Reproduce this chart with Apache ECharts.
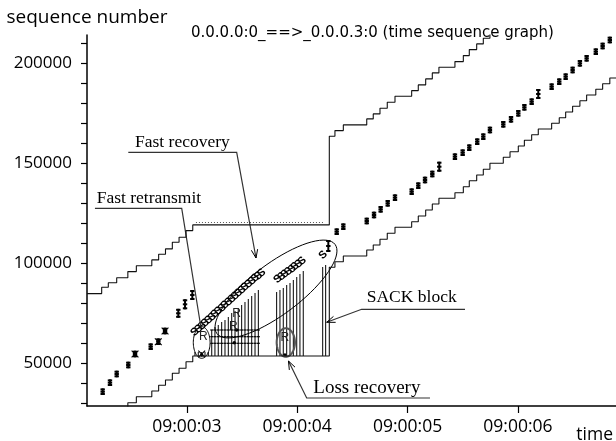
<!DOCTYPE html>
<html><head><meta charset="utf-8">
<script src="https://cdn.jsdelivr.net/npm/echarts@6/dist/echarts.min.js"></script>
<style>html,body{margin:0;padding:0;background:#fff}#c{width:616px;height:441px}</style>
</head><body><div id="c"></div>
<script>
// ---------------- data (time in seconds after 09:00:00, sequence numbers) ----------------
const xTickValues = [3, 4, 5, 6];
const xTickLabels = ['09:00:03', '09:00:04', '09:00:05', '09:00:06'];
const yTickValues = [30000, 40000, 50000, 60000, 70000, 80000, 90000, 100000, 110000, 120000,
  130000, 140000, 150000, 160000, 170000, 180000, 190000, 200000, 210000];
const yLabelValues = [50000, 100000, 150000, 200000];

// data segments sent: [time, seq, length]
const segments = [
  [2.238, 35800, 3300], [2.304, 40300, 3300], [2.365, 44650, 3300], [2.470, 49150, 3300],
  [2.531, 54650, 3300], [2.673, 58300, 3300], [2.742, 60800, 3300], [2.803, 66150, 3300],
  [2.923, 75000, 4500], [2.984, 79500, 5000], [3.050, 84150, 5000],
  [4.282, 108650, 6000], [4.358, 115800, 3300], [4.418, 118300, 3300], [4.630, 121150, 3300],
  [4.696, 124150, 3300], [4.756, 127000, 3300], [4.820, 130000, 3300], [4.886, 132800, 3300],
  [5.037, 135800, 3300], [5.097, 138800, 3300], [5.158, 141650, 3300], [5.224, 144650, 3300],
  [5.287, 148300, 5000], [5.429, 153300, 3300], [5.499, 155300, 3300], [5.559, 157800, 3300],
  [5.631, 160800, 3300], [5.686, 163300, 3300], [5.746, 166650, 3300], [5.867, 169500, 3300],
  [5.937, 172000, 3300], [6.003, 175000, 3300], [6.058, 178000, 3300], [6.124, 180800, 3300],
  [6.184, 184650, 5000], [6.305, 188300, 3300], [6.374, 190800, 3300], [6.432, 193300, 3300],
  [6.495, 196650, 3300], [6.561, 200000, 3300], [6.622, 202500, 3300], [6.705, 205800, 3300],
  [6.767, 208650, 3300], [6.832, 211650, 3300]
];

// cumulative ACK line: [time, ack]
const ackLine = [
  [2.466, 27000], [2.466, 30300], [2.543, 33250], [2.683, 36150], [2.745, 39000], [2.807, 41650],
  [2.869, 45000], [2.930, 47500], [2.993, 50800], [3.054, 53650], [4.291, 98000], [4.342, 100800],
  [4.418, 103650], [4.630, 106650], [4.689, 109150], [4.750, 112000], [4.816, 115000], [4.886, 118000],
  [5.037, 120800], [5.097, 123650], [5.164, 126650], [5.224, 129650], [5.284, 132500], [5.429, 135300],
  [5.505, 138300], [5.559, 141300], [5.626, 144150], [5.686, 147000], [5.746, 150000], [5.867, 153000],
  [5.928, 155800], [6.003, 158650], [6.058, 161500], [6.124, 164300], [6.184, 167150], [6.305, 170000],
  [6.374, 172800], [6.432, 175650], [6.495, 178500], [6.561, 181300], [6.622, 184150], [6.705, 187000],
  [6.767, 189800], [6.832, 192650], [6.888, 192650]
];

// advertised receive window edge: [time, seq]
const windowLine = [
  [2.096, 84850], [2.229, 88000], [2.289, 90300], [2.365, 92800], [2.466, 95850], [2.543, 98800],
  [2.683, 101700], [2.745, 104550], [2.807, 107200], [2.869, 110550], [2.930, 113050], [2.993, 116350],
  [3.054, 119200], [4.291, 163550], [4.342, 166350], [4.418, 169200], [4.630, 172200], [4.689, 174700],
  [4.750, 177550], [4.816, 180550], [4.886, 183550], [5.037, 186350], [5.097, 189200], [5.164, 192200],
  [5.224, 195200], [5.284, 198050], [5.429, 200850], [5.505, 203850], [5.559, 206850], [5.626, 209700],
  [5.686, 212550], [5.746, 215550]
];

const windowProbe = [[3.083, 120400], [4.250, 120400]];

// SACK blocks: [time, upper edge]; lower end at the stalled ACK
const sackBase = 53650;
const sackBlocks = [
  [3.074, 55650], [3.104, 55650], [3.135, 55650], [3.165, 55650], [3.195, 55650],
  [3.226, 66650], [3.255, 68150], [3.285, 69150], [3.316, 70650], [3.346, 71650], [3.376, 73150],
  [3.407, 75150], [3.437, 76150], [3.466, 77650], [3.497, 79150], [3.527, 80650], [3.557, 82150],
  [3.588, 83650], [3.618, 85150], [3.648, 86650],
  [3.814, 85650], [3.844, 86650], [3.874, 87650], [3.905, 89150], [3.935, 90150], [3.965, 91650],
  [3.996, 93150], [4.025, 94650], [4.055, 96150],
  [4.231, 98150], [4.258, 99150]
];
const sackEdges = [60000, 63300, 66650];
const sackEdgeRange = [3.22, 3.65];

// SACKed segments (S marks): [time, seq]
const sackedSegs = [
  [3.074, 65650], [3.106, 67150], [3.138, 68650], [3.165, 70150], [3.197, 71650], [3.229, 73150],
  [3.255, 74650], [3.287, 76150], [3.319, 77650], [3.346, 79150], [3.378, 80650], [3.409, 82150],
  [3.437, 83650], [3.468, 85150], [3.500, 86650], [3.527, 88150], [3.559, 89650], [3.591, 91150],
  [3.618, 92650], [3.649, 93650], [3.678, 95150],
  [3.826, 92150], [3.858, 93400], [3.889, 94650], [3.921, 95900], [3.953, 97150], [3.980, 98400],
  [4.012, 99650], [4.044, 101150],
  [4.236, 104150]
];

const retransmits = [[3.135, 54150], [3.430, 60300], [3.452, 66650], [3.889, 54150]];
const retransLabels = [[3.149, 63300], [3.421, 68300], [3.452, 75000], [3.889, 62800]];
const dupAcks = [[2.531, 54650], [2.742, 60800], [2.803, 66150], [3.135, 54650]];

// annotations (anchored in data coordinates)
const notes = [
  { text: 'Fast recovery', at: [2.531, 160400], line: [[2.470, 155500], [3.452, 155500], [3.627, 102650]], arrow: true, size: 17.5 },
  { text: 'Fast retransmit', at: [2.184, 132400], line: [[2.168, 127500], [2.954, 127500], [3.129, 67650]], arrow: false, size: 17.5 },
  { text: 'SACK block', at: [4.630, 83150], line: [[5.520, 77000], [4.584, 77000], [4.267, 70500]], arrow: true, size: 17.5 },
  { text: 'Loss recovery', at: [4.146, 37600], line: [[5.203, 32650], [4.086, 32650], [3.921, 51150]], arrow: true, size: 19 }
];
const rings = [
  { box: [3.059, 3.211, 52500, 68300], color: '#000', width: 1 },
  { box: [3.814, 3.980, 53300, 67500], color: '#555', width: 2 },
  { axis: [[3.273, 64850], [4.343, 109450]], ratio: 0.34, color: '#000', width: 1 }
];

// ---------------- rendering ----------------
const chart = echarts.init(document.getElementById('c'), null, { renderer: 'canvas' });
const INK = '#000';

function renderSeg(params, api) {
  const t = api.value(0), v = api.value(1), len = api.value(2);
  const a = api.coord([t, v + len / 2]), b = api.coord([t, v - len / 2]), m = api.coord([t, v]);
  const w = 2.2;
  const tick = (p) => ({ type: 'line', shape: { x1: p[0] - w, y1: p[1], x2: p[0] + w, y2: p[1] }, style: { stroke: INK, lineWidth: 2 } });
  return { type: 'group', children: [
    { type: 'line', shape: { x1: a[0], y1: a[1], x2: b[0], y2: b[1] }, style: { stroke: INK, lineWidth: 2 } },
    tick([a[0], a[1] + 1]), tick(m), tick([b[0], b[1] - 1])
  ] };
}

function renderSack(params, api) {
  const t = api.value(0), top = api.value(1);
  const a = api.coord([t, top]), b = api.coord([t, sackBase]);
  const kids = [{ type: 'line', shape: { x1: a[0], y1: a[1], x2: b[0], y2: b[1] }, style: { stroke: INK, lineWidth: 1 } }];
  if (t >= sackEdgeRange[0] && t <= sackEdgeRange[1]) {
    sackEdges.forEach(e => {
      if (e <= top) {
        const p = api.coord([t, e]);
        kids.push({ type: 'line', shape: { x1: p[0] - 1.5, y1: p[1], x2: p[0] + 1.5, y2: p[1] }, style: { stroke: INK, lineWidth: 1.2 } });
      }
    });
  }
  return { type: 'group', children: kids };
}

function renderS(params, api) {
  const p = api.coord([api.value(0), api.value(1)]);
  return { type: 'text', x: p[0], y: p[1], rotation: 0.75,
    style: { text: 'S', fontFamily: 'Liberation Sans', fontSize: 11, fontWeight: 'bold', fill: INK, align: 'center', verticalAlign: 'middle' } };
}

function renderR(params, api) {
  const p = api.coord([api.value(0), api.value(1)]);
  return { type: 'text', x: p[0], y: p[1],
    style: { text: 'R', fontFamily: 'Liberation Sans', fontSize: 12, fill: '#222', align: 'center', verticalAlign: 'middle' } };
}

function renderDot(params, api) {
  const p = api.coord([api.value(0), api.value(1)]);
  return { type: 'circle', shape: { cx: p[0], cy: p[1], r: 1.7 }, style: { fill: INK } };
}

function renderX(params, api) {
  const p = api.coord([api.value(0), api.value(1)]);
  const r = 3.4;
  return { type: 'group', children: [
    { type: 'line', shape: { x1: p[0] - r, y1: p[1] - r, x2: p[0] + r, y2: p[1] + r }, style: { stroke: INK, lineWidth: 1.1 } },
    { type: 'line', shape: { x1: p[0] - r, y1: p[1] + r, x2: p[0] + r, y2: p[1] - r }, style: { stroke: INK, lineWidth: 1.1 } }
  ] };
}

function ellipsePts(cx, cy, A, B, phi) {
  const pts = [];
  for (let k = 0; k < 72; k++) {
    const th = 2 * Math.PI * k / 72;
    const lx = A * Math.cos(th), ly = B * Math.sin(th);
    pts.push([cx + lx * Math.cos(phi) - ly * Math.sin(phi), cy + lx * Math.sin(phi) + ly * Math.cos(phi)]);
  }
  return pts;
}

function renderNotes(params, api) {
  const kids = [];
  notes.forEach(n => {
    const p = api.coord(n.at);
    kids.push({ type: 'text', x: p[0], y: p[1],
      style: { text: n.text, fontFamily: 'Liberation Serif', fontSize: n.size, fill: INK, align: 'left', verticalAlign: 'middle' } });
    const pts = n.line.map(q => api.coord(q));
    kids.push({ type: 'polyline', shape: { points: pts }, style: { stroke: '#333', lineWidth: 1.2, fill: 'none' } });
    if (n.arrow) {
      const a = pts[pts.length - 2], b = pts[pts.length - 1];
      const ang = Math.atan2(b[1] - a[1], b[0] - a[0]);
      const L = 9, s = 0.36;
      kids.push({ type: 'polyline', shape: { points: [
        [b[0] - L * Math.cos(ang - s), b[1] - L * Math.sin(ang - s)], b,
        [b[0] - L * Math.cos(ang + s), b[1] - L * Math.sin(ang + s)]] },
        style: { stroke: INK, lineWidth: 1, fill: 'none' } });
    }
  });
  rings.forEach(r => {
    let pts;
    if (r.box) {
      const p1 = api.coord([r.box[0], r.box[3]]), p2 = api.coord([r.box[1], r.box[2]]);
      pts = ellipsePts((p1[0] + p2[0]) / 2, (p1[1] + p2[1]) / 2, (p2[0] - p1[0]) / 2, (p2[1] - p1[1]) / 2, 0);
    } else {
      const a = api.coord(r.axis[0]), b = api.coord(r.axis[1]);
      const A = Math.hypot(b[0] - a[0], b[1] - a[1]) / 2;
      pts = ellipsePts((a[0] + b[0]) / 2, (a[1] + b[1]) / 2, A, A * r.ratio, Math.atan2(b[1] - a[1], b[0] - a[0]));
    }
    kids.push({ type: 'polygon', shape: { points: pts }, style: { stroke: r.color, lineWidth: r.width, fill: 'none' } });
  });
  return { type: 'group', children: kids };
}

const labelOf = (v) => {
  const i = xTickValues.findIndex(x => Math.abs(x - v) < 1e-6);
  return i >= 0 ? xTickLabels[i] : '';
};

chart.setOption({
  animation: false,
  backgroundColor: '#fff',
  textStyle: { fontFamily: 'Open Sans' },
  title: {
    text: '0.0.0.0:0_==>_0.0.0.3:0 (time sequence graph)',
    left: 186, top: 21,
    textStyle: { fontFamily: 'DejaVu Sans', fontSize: 15, fontWeight: 'normal', color: INK }
  },
  graphic: [{ type: 'text', right: 3, top: 426, style: { text: 'time', font: '17.5px "Open Sans"', fill: INK } }],
  grid: { left: 87, right: 0, top: 35, bottom: 35, containLabel: false },
  xAxis: {
    type: 'value', min: 2.096, max: 6.888,
    axisLine: { show: true, lineStyle: { color: INK, width: 1.5 } },
    axisTick: { show: true, customValues: xTickValues, length: 7, lineStyle: { color: INK, width: 1.2 } },
    axisLabel: { customValues: xTickValues, formatter: labelOf, fontFamily: 'Open Sans', fontSize: 17.5, color: INK, margin: 12 },
    splitLine: { show: false }
  },
  yAxis: {
    type: 'value', min: 28650, max: 214150,
    name: 'sequence number', nameLocation: 'end', nameGap: 8,
    nameTextStyle: { fontFamily: 'Open Sans', fontSize: 19, color: INK },
    axisLine: { show: true, lineStyle: { color: INK, width: 1.5 } },
    axisTick: { show: true, customValues: yTickValues, length: 6, lineStyle: { color: INK, width: 1.2 } },
    axisLabel: { customValues: yLabelValues, formatter: (v) => String(Math.round(v)), fontFamily: 'Open Sans', fontSize: 17, color: INK, margin: 15 },
    splitLine: { show: false }
  },
  series: [
    { type: 'line', step: 'end', data: windowLine, symbol: 'none', clip: true, lineStyle: { color: '#111', width: 1.1 }, silent: true },
    { type: 'line', data: windowProbe, symbol: 'none', clip: true, lineStyle: { color: '#555', width: 1, type: [1, 2] }, silent: true },
    { type: 'line', step: 'end', data: ackLine, symbol: 'none', clip: true, lineStyle: { color: '#111', width: 1.1 }, silent: true },
    { type: 'custom', data: sackBlocks, renderItem: renderSack, clip: true, silent: true },
    { type: 'custom', data: segments, renderItem: renderSeg, clip: true, silent: true },
    { type: 'custom', data: sackedSegs, renderItem: renderS, clip: true, silent: true },
    { type: 'custom', data: retransmits, renderItem: renderDot, clip: true, silent: true },
    { type: 'custom', data: retransLabels, renderItem: renderR, clip: true, silent: true },
    { type: 'custom', data: dupAcks, renderItem: renderX, clip: true, silent: true },
    { type: 'custom', data: [[3, 100000]], renderItem: renderNotes, clip: false, silent: true }
  ]
});
</script>
</body></html>
